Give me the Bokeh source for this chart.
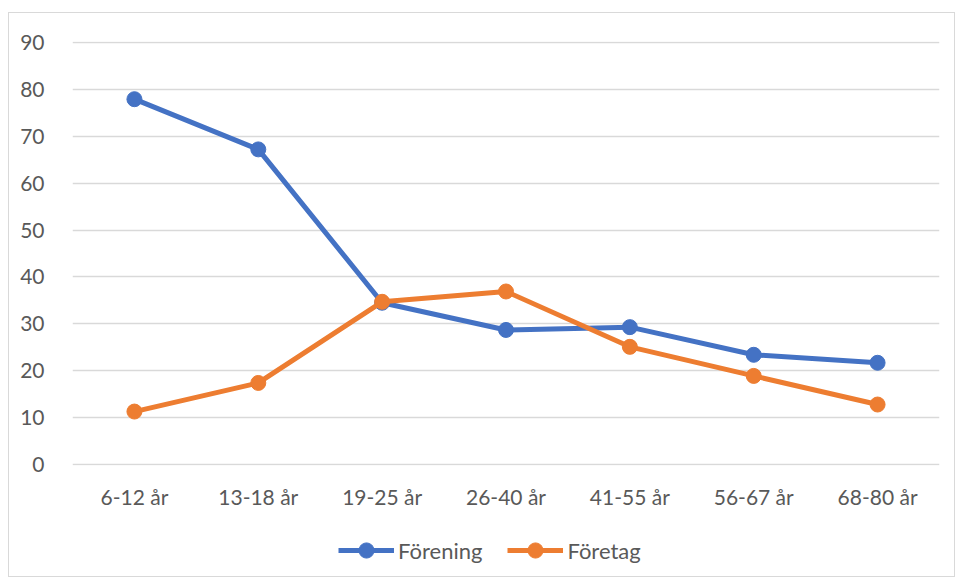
from bokeh.plotting import figure
from bokeh.layouts import column
from bokeh.models import Legend, LegendItem, FixedTicker, Range1d
from bokeh.embed import file_html
from bokeh.resources import INLINE

categories = ["6-12 år", "13-18 år", "19-25 år", "26-40 år", "41-55 år", "56-67 år", "68-80 år"]
forening = [77.9, 67.2, 34.5, 28.7, 29.3, 23.4, 21.7]
foretag = [11.3, 17.4, 34.7, 36.9, 25.1, 18.9, 12.8]
series_names = ["Förening", "Företag"]
y_ticks = [0, 10, 20, 30, 40, 50, 60, 70, 80, 90]

FONT = "Lato"
TXT = "#595959"
BLUE = "#4472C4"
ORANGE = "#ED7D31"

p = figure(width=945, height=507, x_range=categories, y_range=Range1d(-0.2, 90.2),
           output_backend="svg", toolbar_location=None,
           min_border_left=63, min_border_right=15, min_border_top=28, min_border_bottom=55)
p.outline_line_color = None
p.background_fill_color = "white"
p.border_fill_color = "white"

p.xgrid.grid_line_color = None
p.ygrid.grid_line_color = "#D9D9D9"
p.ygrid.grid_line_width = 1.3
p.yaxis.ticker = FixedTicker(ticks=y_ticks)
for ax in (p.xaxis, p.yaxis):
    ax.axis_line_color = None
    ax.major_tick_line_color = None
    ax.minor_tick_line_color = None
    ax.major_label_text_font = FONT
    ax.major_label_text_font_size = "21px"
    ax.major_label_text_color = TXT
p.yaxis.major_label_standoff = 22
p.xaxis.major_label_standoff = 12

p.line(categories, forening, line_color=BLUE, line_width=5)
p.scatter(categories, forening, size=15, fill_color=BLUE, line_color=BLUE)
p.line(categories, foretag, line_color=ORANGE, line_width=5)
p.scatter(categories, foretag, size=15, fill_color=ORANGE, line_color=ORANGE)

# legend strip below the chart (legend-only renderers hold no visible data)
lg = figure(width=945, height=56, x_range=Range1d(0, 1), y_range=Range1d(0, 1),
            output_backend="svg", toolbar_location=None,
            min_border_left=0, min_border_right=0, min_border_top=0, min_border_bottom=0)
lg.axis.visible = False
lg.grid.visible = False
lg.outline_line_color = None
lg.background_fill_color = "white"
nan = float("nan")
items = []
for name, col in zip(series_names, [BLUE, ORANGE]):
    r1 = lg.line(x=[nan], y=[nan], line_color=col, line_width=5)
    r2 = lg.scatter(x=[nan], y=[nan], size=15, fill_color=col, line_color=col)
    items.append(LegendItem(label=name, renderers=[r1, r2]))
legend = Legend(items=items, orientation="horizontal", location=(266, 7),
                label_text_font=FONT, label_text_font_size="22px", label_text_color=TXT,
                glyph_width=56, glyph_height=38, spacing=25, padding=2, label_standoff=4,
                border_line_color=None, background_fill_alpha=0, margin=0)
lg.add_layout(legend, "center")

layout = column(p, lg, spacing=0,
                styles={"border": "1px solid #D9D9D9", "margin-left": "8px", "margin-top": "12px"})

open("out.html", "w").write(file_html(layout, INLINE))
